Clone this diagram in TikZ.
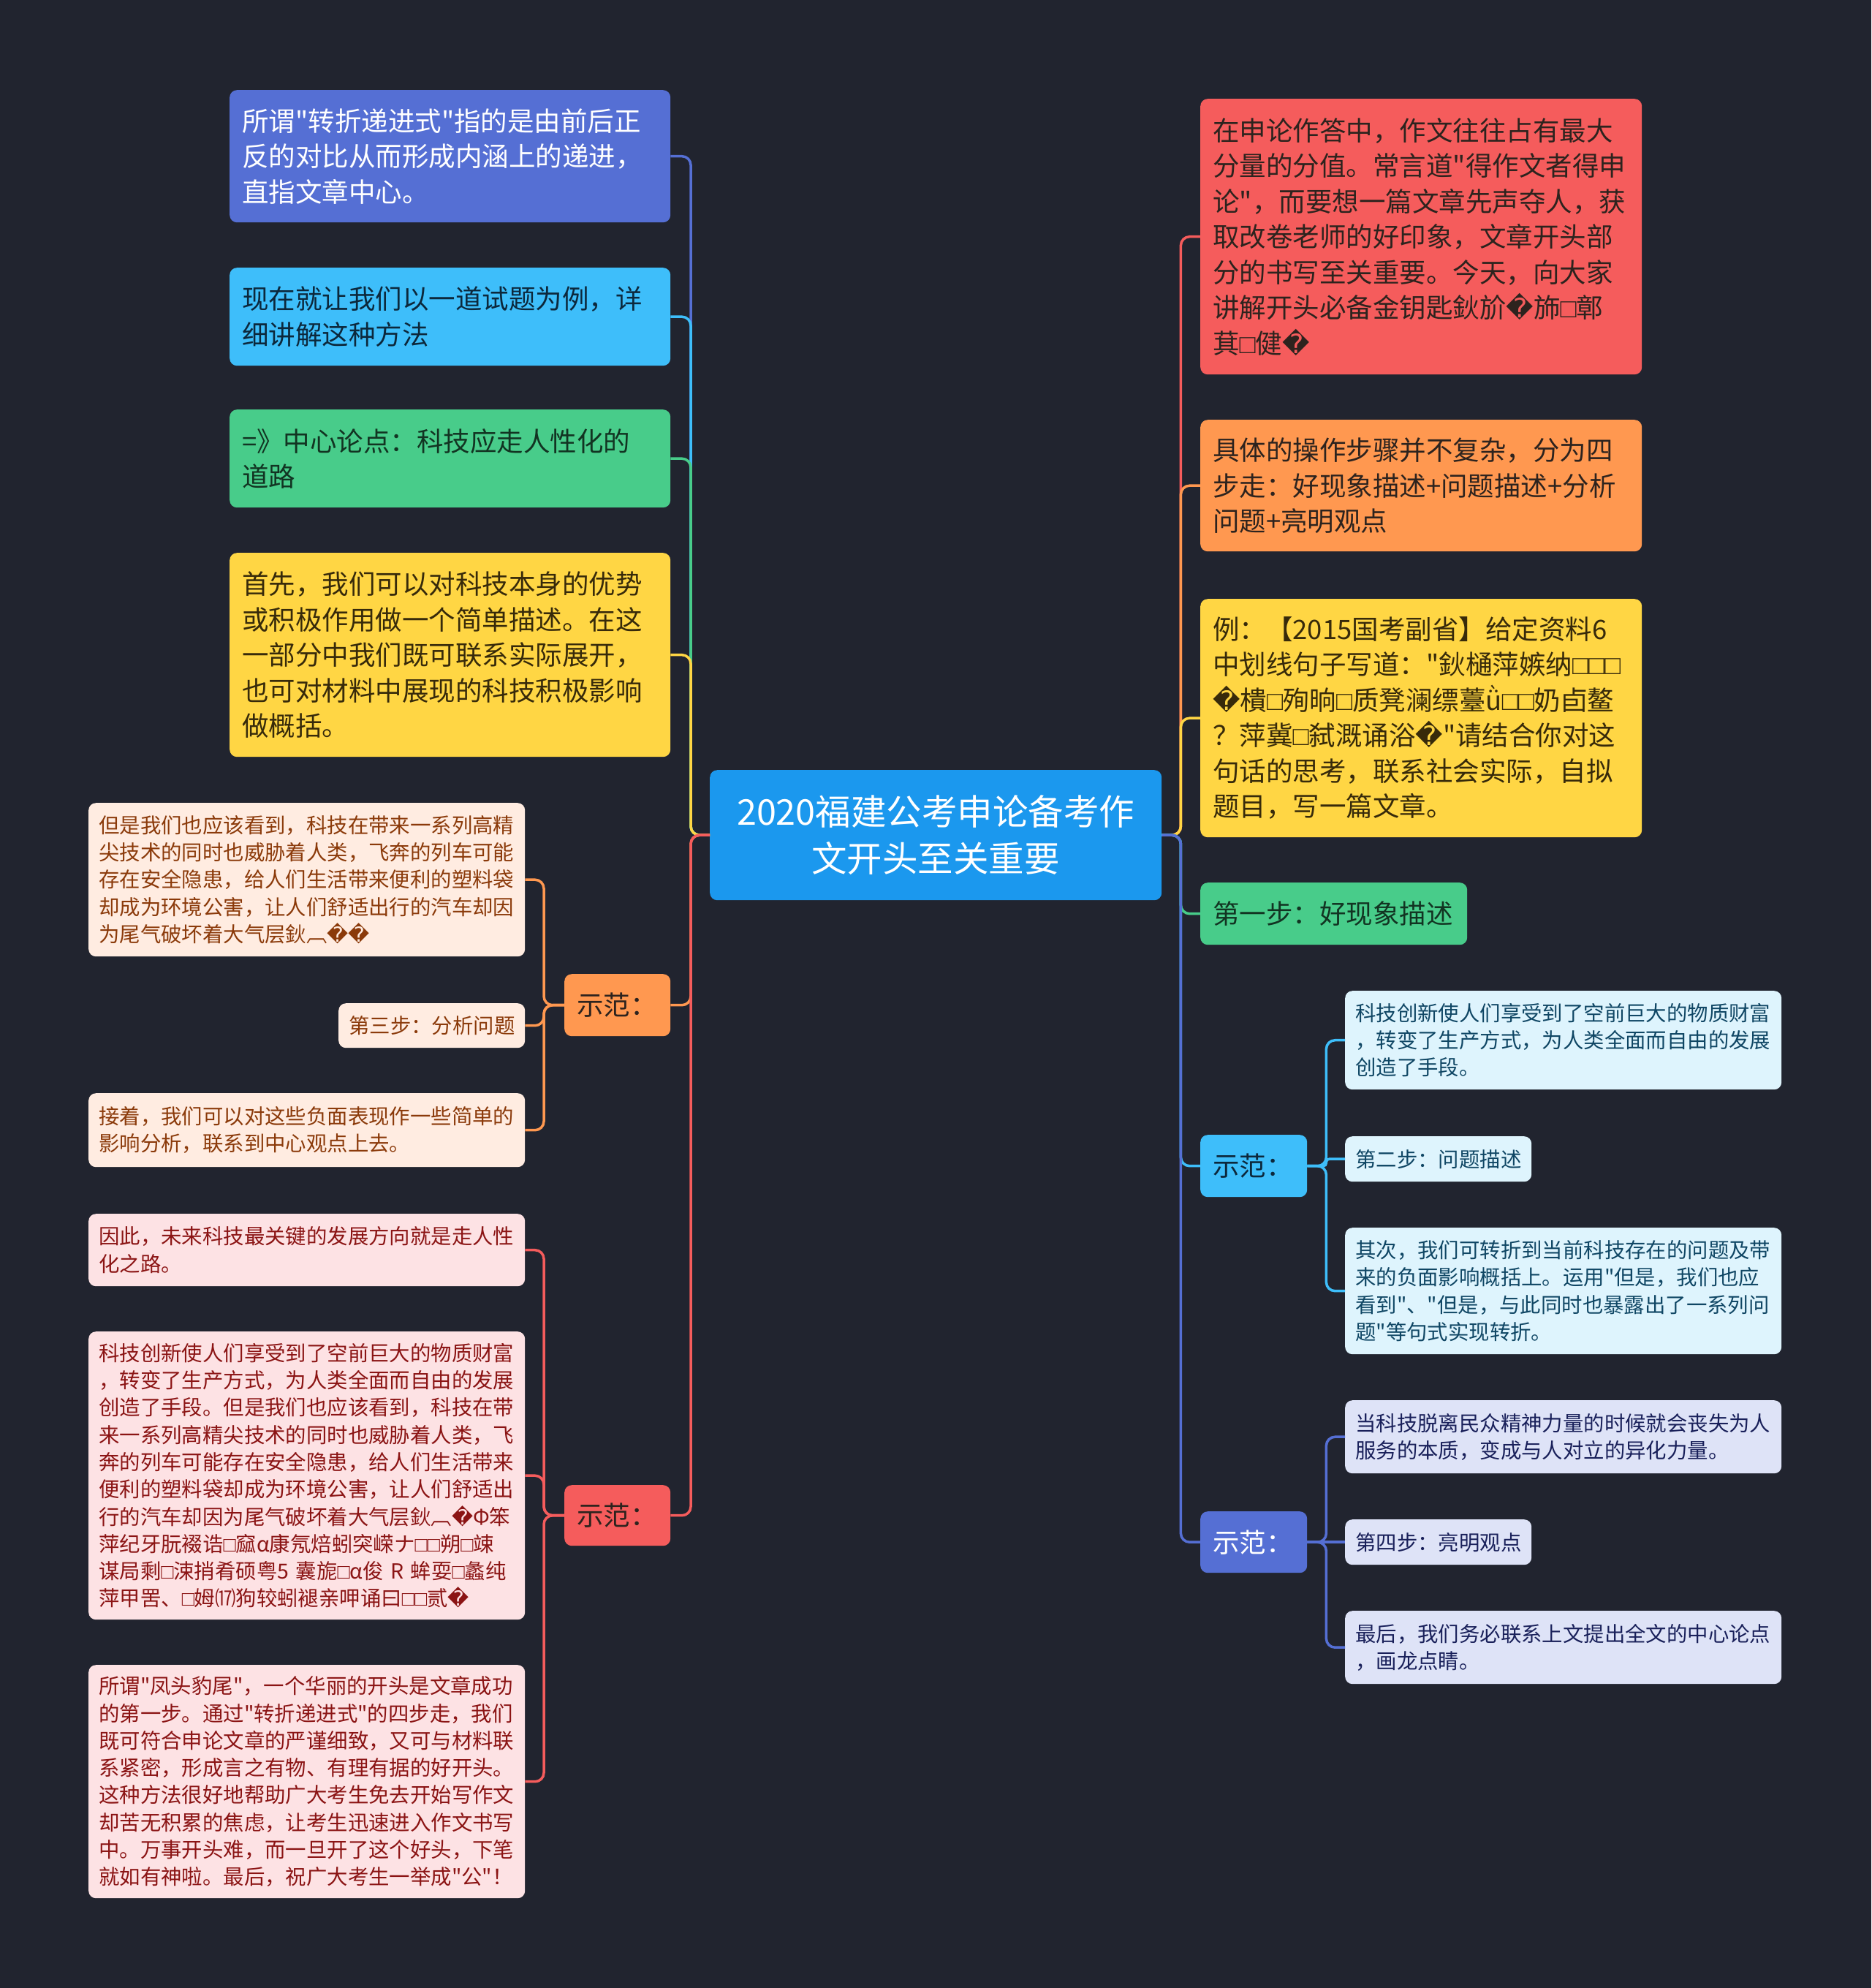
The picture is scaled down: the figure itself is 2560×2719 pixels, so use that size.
\documentclass[tikz,border=0pt]{standalone}
\usepackage{fontspec}
\setmainfont{Noto Sans CJK SC}[Ligatures=TeXOff]
\newfontfamily\dvfont{DejaVu Sans}
\newfontfamily\lsfont{Liberation Sans}
\newcommand\rp{{\dvfont ^^^^fffd}}
\newcommand\tf{{\lsfont ^^^^25a1}}
\definecolor{bg}{RGB}{33,36,47}
\definecolor{cInd}{RGB}{85,111,212}
\definecolor{cCya}{RGB}{62,190,250}
\definecolor{cGrn}{RGB}{72,204,138}
\definecolor{cYel}{RGB}{255,214,68}
\definecolor{cOrg}{RGB}{255,152,80}
\definecolor{cRed}{RGB}{245,92,92}
\definecolor{cRoot}{RGB}{27,152,238}
\definecolor{bPeach}{RGB}{255,236,225}
\definecolor{tPeach}{RGB}{139,58,10}
\definecolor{bPink}{RGB}{253,226,228}
\definecolor{tPink}{RGB}{139,20,20}
\definecolor{bSky}{RGB}{222,244,253}
\definecolor{tSky}{RGB}{15,70,100}
\definecolor{bLav}{RGB}{222,227,247}
\definecolor{tLav}{RGB}{25,32,90}
\definecolor{tDark}{RGB}{45,35,30}
\tikzset{
  mbox/.style={rounded corners=10pt, anchor=north west, inner xsep=17pt, inner ysep=0pt,
    align=left, font=\fontsize{36.5pt}{48.5pt}\selectfont},
  sbox/.style={rounded corners=10pt, anchor=north west, inner xsep=14pt, inner ysep=0pt,
    align=left, font=\fontsize{28.4pt}{37.3pt}\selectfont},
  conn/.style={line width=3.5pt, rounded corners=12pt},
}
\begin{document}
\begin{tikzpicture}[x=1pt,y=1pt]
\fill[bg] (0,0) rectangle (2560,-2719);
\useasboundingbox (0,0) rectangle (2560,-2719);

% root
\node[rounded corners=10pt, anchor=north west, fill=cRoot, text=white, align=center,
  text width=584pt, minimum height=178pt, inner xsep=17pt, inner ysep=0pt,
  font=\fontsize{48.5pt}{64pt}\selectfont] (root) at (971,-1053)
  {2020福建公考申论备考作\\文开头至关重要};

% left main branches
\node[mbox, fill=cInd, text=white, text width=569pt, minimum height=181pt] (n1) at (314,-123)
  {所谓"转折递进式"指的是由前后正\\反的对比从而形成内涵上的递进，\\直指文章中心。};
\node[mbox, fill=cCya, text={rgb,255:red,12;green,40;blue,60}, text width=569pt, minimum height=134pt] (n2) at (314,-366)
  {现在就让我们以一道试题为例，详\\细讲解这种方法};
\node[mbox, fill=cGrn, text={rgb,255:red,18;green,52;blue,34}, text width=569pt, minimum height=134pt] (n3) at (314,-560)
  {=》中心论点：科技应走人性化的\\道路};
\node[mbox, fill=cYel, text={rgb,255:red,55;green,42;blue,10}, text width=569pt, minimum height=279pt] (n4) at (314,-756)
  {首先，我们可以对科技本身的优势\\或积极作用做一个简单描述。在这\\一部分中我们既可联系实际展开，\\也可对材料中展现的科技积极影响\\做概括。};
\node[mbox, fill=cOrg, text=tDark, text width=111pt, minimum height=85pt] (sfL1) at (772,-1332) {示范：};
\node[mbox, fill=cRed, text=tDark, text width=111pt, minimum height=83pt] (sfL2) at (772,-2031) {示范：};

% orange children
\node[sbox, fill=bPeach, text=tPeach, text width=569pt, minimum height=210pt] (o1) at (121,-1098)
  {但是我们也应该看到，科技在带来一系列高精\\尖技术的同时也威胁着人类，飞奔的列车可能\\存在安全隐患，给人们生活带来便利的塑料袋\\却成为环境公害，让人们舒适出行的汽车却因\\为尾气破坏着大气层鈥︹\rp{}\rp{}};
\node[sbox, fill=bPeach, text=tPeach, text width=227pt, minimum height=61pt] (o2) at (463,-1372)
  {第三步：分析问题};
\node[sbox, fill=bPeach, text=tPeach, text width=569pt, minimum height=101pt] (o3) at (121,-1495)
  {接着，我们可以对这些负面表现作一些简单的\\影响分析，联系到中心观点上去。};

% red children
\node[sbox, fill=bPink, text=tPink, text width=569pt, minimum height=99pt] (r1) at (121,-1660)
  {因此，未来科技最关键的发展方向就是走人性\\化之路。};
\node[sbox, fill=bPink, text=tPink, text width=569pt, minimum height=394pt] (r2) at (121,-1821)
  {科技创新使人们享受到了空前巨大的物质财富\\，转变了生产方式，为人类全面而自由的发展\\创造了手段。但是我们也应该看到，科技在带\\来一系列高精尖技术的同时也威胁着人类，飞\\奔的列车可能存在安全隐患，给人们生活带来\\便利的塑料袋却成为环境公害，让人们舒适出\\行的汽车却因为尾气破坏着大气层鈥︹\rp{}Φ笨\\萍纪牙朊裰诰\tf{}窳α康氖焙蚓突嵘ナ\tf{}\tf{}朔\tf{}竦\\谋局剩\tf{}涑捎肴硕粤5~囊旎\tf{}α俊~R~蛑耍\tf{}蠡纯\\萍甲罟、\tf{}姆⒄狗较蚓褪亲呷诵曰\tf{}\tf{}贰\rp{}};
\node[sbox, fill=bPink, text=tPink, text width=569pt, minimum height=319pt] (r3) at (121,-2277)
  {所谓"凤头豹尾"，一个华丽的开头是文章成功\\的第一步。通过"转折递进式"的四步走，我们\\既可符合申论文章的严谨细致，又可与材料联\\系紧密，形成言之有物、有理有据的好开头。\\这种方法很好地帮助广大考生免去开始写作文\\却苦无积累的焦虑，让考生迅速进入作文书写\\中。万事开头难，而一旦开了这个好头，下笔\\就如有神啦。最后，祝广大考生一举成"公"！};

% right main branches
\node[mbox, fill=cRed, text=tDark, text width=570pt, minimum height=377pt] (R1) at (1642,-135)
  {在申论作答中，作文往往占有最大\\分量的分值。常言道"得作文者得申\\论"，而要想一篇文章先声夺人，获\\取改卷老师的好印象，文章开头部\\分的书写至关重要。今天，向大家\\讲解开头必备金钥匙鈥斺\rp{}斾\tf{}鄣\\萁\tf{}健\rp{}};
\node[mbox, fill=cOrg, text=tDark, text width=570pt, minimum height=180pt] (R2) at (1642,-574)
  {具体的操作步骤并不复杂，分为四\\步走：好现象描述+问题描述+分析\\问题+亮明观点};
\node[mbox, fill=cYel, text={rgb,255:red,55;green,42;blue,10}, text width=570pt, minimum height=326pt] (R3) at (1642,-819)
  {例：【2015国考副省】给定资料6\\中划线句子写道："鈥樋萍嫉纳\tf{}\tf{}\tf{}\\\rp{}樻\tf{}殉晌\tf{}质凳澜缥薹ǜ\tf{}\tf{}奶卣鳌\\？萍冀\tf{}弑溉诵浴\rp{}"请结合你对这\\句话的思考，联系社会实际，自拟\\题目，写一篇文章。};
\node[mbox, fill=cGrn, text={rgb,255:red,18;green,52;blue,34}, text width=331pt, minimum height=85pt] (R4) at (1642,-1207)
  {第一步：好现象描述};
\node[mbox, fill=cCya, text={rgb,255:red,12;green,40;blue,60}, text width=112pt, minimum height=85pt] (sfR1) at (1642,-1552) {示范：};
\node[mbox, fill=cInd, text=white, text width=112pt, minimum height=84pt] (sfR2) at (1642,-2067) {示范：};

% sky children
\node[sbox, fill=bSky, text=tSky, text width=569pt, minimum height=135pt] (b1) at (1840,-1355)
  {科技创新使人们享受到了空前巨大的物质财富\\，转变了生产方式，为人类全面而自由的发展\\创造了手段。};
\node[sbox, fill=bSky, text=tSky, text width=227pt, minimum height=62pt] (b2) at (1840,-1554)
  {第二步：问题描述};
\node[sbox, fill=bSky, text=tSky, text width=569pt, minimum height=173pt] (b3) at (1840,-1679)
  {其次，我们可转折到当前科技存在的问题及带\\来的负面影响概括上。运用"但是，我们也应\\看到"、"但是，与此同时也暴露出了一系列问\\题"等句式实现转折。};

% lavender children
\node[sbox, fill=bLav, text=tLav, text width=569pt, minimum height=100pt] (i1) at (1840,-1915)
  {当科技脱离民众精神力量的时候就会丧失为人\\服务的本质，变成与人对立的异化力量。};
\node[sbox, fill=bLav, text=tLav, text width=227pt, minimum height=62pt] (i2) at (1840,-2078)
  {第四步：亮明观点};
\node[sbox, fill=bLav, text=tLav, text width=569pt, minimum height=100pt] (i3) at (1840,-2203)
  {最后，我们务必联系上文提出全文的中心论点\\，画龙点睛。};

% connectors: root -> left
\draw[conn, cInd] (root.west) -- ++(-26,0) |- (n1.east);
\draw[conn, cCya] (root.west) -- ++(-26,0) |- (n2.east);
\draw[conn, cGrn] (root.west) -- ++(-26,0) |- (n3.east);
\draw[conn, cYel] (root.west) -- ++(-26,0) |- (n4.east);
\draw[conn, cOrg] (root.west) -- ++(-26,0) |- (sfL1.east);
\draw[conn, cRed] (root.west) -- ++(-26,0) |- (sfL2.east);
% root -> right
\draw[conn, cRed] (root.east) -- ++(26,0) |- (R1.west);
\draw[conn, cOrg] (root.east) -- ++(26,0) |- (R2.west);
\draw[conn, cYel] (root.east) -- ++(26,0) |- (R3.west);
\draw[conn, cGrn] (root.east) -- ++(26,0) |- (R4.west);
\draw[conn, cCya] (root.east) -- ++(26,0) |- (sfR1.west);
\draw[conn, cInd] (root.east) -- ++(26,0) |- (sfR2.west);
% sub-trees
\draw[conn, cOrg] (sfL1.west) -- ++(-28,0) |- (o1.east);
\draw[conn, cOrg] (sfL1.west) -- ++(-28,0) |- (o2.east);
\draw[conn, cOrg] (sfL1.west) -- ++(-28,0) |- (o3.east);
\draw[conn, cRed] (sfL2.west) -- ++(-28,0) |- (r1.east);
\draw[conn, cRed] (sfL2.west) -- ++(-28,0) |- (r2.east);
\draw[conn, cRed] (sfL2.west) -- ++(-28,0) |- (r3.east);
\draw[conn, cCya] (sfR1.east) -- ++(26,0) |- (b1.west);
\draw[conn, cCya, rounded corners=4pt] (sfR1.east) -- ++(26,0) |- (b2.west);
\draw[conn, cCya] (sfR1.east) -- ++(26,0) |- (b3.west);
\draw[conn, cInd] (sfR2.east) -- ++(26,0) |- (i1.west);
\draw[conn, cInd] (sfR2.east) -- (i2.west);
\draw[conn, cInd] (sfR2.east) -- ++(26,0) |- (i3.west);
\end{tikzpicture}
\end{document}
